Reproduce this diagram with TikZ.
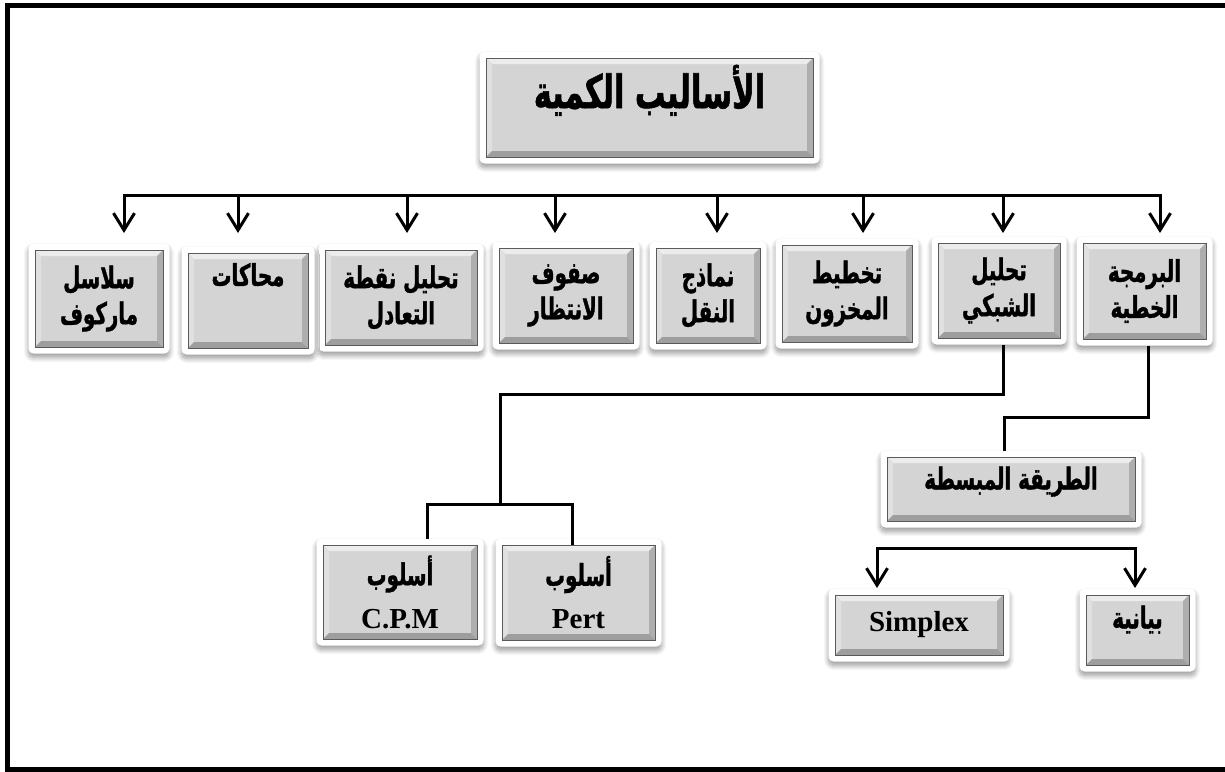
\documentclass[tikz,border=0pt]{standalone}
\usepackage{fontspec}
\setmainfont{Liberation Serif}
\newfontfamily\arabicfont[Script=Arabic,FakeStretch=0.66,BoldFeatures={FakeBold=1.2}]{DejaVu Sans}
\TeXXeTstate=1
\usetikzlibrary{arrows.meta,backgrounds,shadows.blur}

% Arabic run, set right to left
\newcommand\artxt[1]{{\arabicfont\bfseries\beginR#1\endR}}
% Latin run inside a panel
\newcommand\lattxt[1]{{\fontsize{29}{40}\selectfont\bfseries#1}}

\definecolor{face}{HTML}{D4D4D4}
\definecolor{bevtop}{HTML}{ECECEC}
\definecolor{bevleft}{HTML}{E0E0E0}
\definecolor{bevright}{HTML}{AEAEAE}
\definecolor{bevbot}{HTML}{9E9E9E}
\definecolor{rimline}{HTML}{5A5A5A}

\tikzset{
  panel/.style={draw=rimline, line width=0.8pt, fill=face, outer sep=6.5pt,
    inner sep=2pt, align=center, font=\fontsize{30}{36}\selectfont,
    path picture={
      \path (path picture bounding box.north west) coordinate (pa)
            (path picture bounding box.north east) coordinate (pb)
            (path picture bounding box.south east) coordinate (pc)
            (path picture bounding box.south west) coordinate (pd);
      \fill[bevtop] (pa) -- (pb) -- ([shift={(-6pt,-6pt)}]pb) -- ([shift={(6pt,-6pt)}]pa) -- cycle;
      \fill[bevleft] (pa) -- (pd) -- ([shift={(6pt,6pt)}]pd) -- ([shift={(6pt,-6pt)}]pa) -- cycle;
      \fill[bevright] (pb) -- (pc) -- ([shift={(-6pt,6pt)}]pc) -- ([shift={(-6pt,-6pt)}]pb) -- cycle;
      \fill[bevbot] (pd) -- (pc) -- ([shift={(-6pt,6pt)}]pc) -- ([shift={(6pt,6pt)}]pd) -- cycle;
    }},
  rim/.style={fill=white, rounded corners=5pt,
    blur shadow={shadow xshift=0pt, shadow yshift=-4pt, shadow blur radius=5pt,
      shadow opacity=40, shadow blur steps=10}},
  conn/.style={line width=3pt},
  arr/.style={line width=3pt, -{Straight Barb[length=17pt,width=21pt,line width=3pt]}},
}

\begin{document}
\begin{tikzpicture}[x=1pt,y=-1pt]
\useasboundingbox (0,0) rectangle (1225,771);

% outer frame (open on the right)
\draw[line width=5pt] (1225,5) -- (7.5,5) -- (7.5,769.5) -- (1225,769.5);

% title
\node[panel, minimum width=327pt, minimum height=99pt,
      font=\fontsize{46}{50}\selectfont, text depth=42pt] (title) at (649.5,107.5)
      {\artxt{الأساليب الكمية}};

% first level
\node[panel, minimum width=123pt, minimum height=96pt] (lin) at (1144.5,291)
      {\artxt{البرمجة}\\\artxt{الخطية}};
\node[panel, minimum width=122pt, minimum height=95pt] (net) at (999,290.5)
      {\artxt{تحليل}\\\artxt{الشبكي}};
\node[panel, minimum width=130pt, minimum height=97pt] (inv) at (847,293.5)
      {\artxt{تخطيط}\\\artxt{المخزون}};
\node[panel, minimum width=104pt, minimum height=95pt] (trn) at (708,295.5)
      {\artxt{نماذج}\\\artxt{النقل}};
\node[panel, minimum width=134pt, minimum height=95pt] (que) at (566,295.5)
      {\artxt{صفوف}\\\artxt{الانتظار}};
\node[panel, minimum width=152pt, minimum height=95pt] (brk) at (401,297.5)
      {\artxt{تحليل نقطة}\\\artxt{التعادل}};
\node[panel, minimum width=120pt, minimum height=95pt, text depth=52pt] (sim) at (248,300.5)
      {\artxt{محاكات}};
\node[panel, minimum width=128pt, minimum height=97pt] (mrk) at (99,298.5)
      {\artxt{سلاسل}\\\artxt{ماركوف}};

% linear programming branch
\node[panel, minimum width=248pt, minimum height=64pt, text depth=22pt] (smp) at (1011,489)
      {\artxt{الطريقة المبسطة}};
\node[panel, minimum width=168pt, minimum height=60pt] (spx) at (919,625)
      {\lattxt{Simplex}};
\node[panel, minimum width=103pt, minimum height=70pt, text depth=26pt] (grf) at (1137.5,630)
      {\artxt{بيانية}};

% network analysis branch
\node[panel, minimum width=154pt, minimum height=94pt, font=\fontsize{30}{43}\selectfont] (cpm) at (400,592)
      {\artxt{أسلوب}\\\lattxt{C.P.M}};
\node[panel, minimum width=153pt, minimum height=95pt, font=\fontsize{30}{43}\selectfont] (prt) at (578.5,592.5)
      {\artxt{أسلوب}\\\lattxt{Pert}};

% white rims with soft shadows behind every panel
\begin{scope}[on background layer]
  \foreach \n in {title,lin,net,inv,trn,que,brk,sim,mrk,smp,spx,grf,cpm,prt}
    \path[rim] (\n.north west) rectangle (\n.south east);
\end{scope}

% distribution bus under the title
\coordinate (bus) at (0,195);
\foreach \x/\i in {124/1,238/2,407/3,555/4,717/5,863/6,1003/7,1160/8}
  \coordinate (t\i) at (\x,233);
\draw[conn, line cap=rect] (t1 |- bus) -- (t8 |- bus);
\foreach \i in {1,...,8}
  \draw[arr] (t\i |- bus) -- (t\i);

% network analysis to its two methods
\coordinate (n1) at (500,394);
\coordinate (n2) at (500,504);
\draw[conn] ([xshift=4pt]net.south) |- (n1) -- (n2);
\draw[conn] ([xshift=27pt]cpm.north) |- (n2) -| ([xshift=-6.5pt,yshift=-6pt]prt.north);

% linear programming to the simplex method
\coordinate (l1) at (1004,417);
\draw[conn] ([xshift=3.5pt]lin.south) |- (l1) -- (l1 |- smp.north);

% simplex method to its two forms
\coordinate (bus2) at (0,548);
\coordinate (s1) at (877,588);
\coordinate (s2) at (1135,588);
\draw[conn, line cap=rect] (s1 |- bus2) -- (s2 |- bus2);
\draw[arr] (s1 |- bus2) -- (s1);
\draw[arr] (s2 |- bus2) -- (s2);
\end{tikzpicture}
\end{document}
